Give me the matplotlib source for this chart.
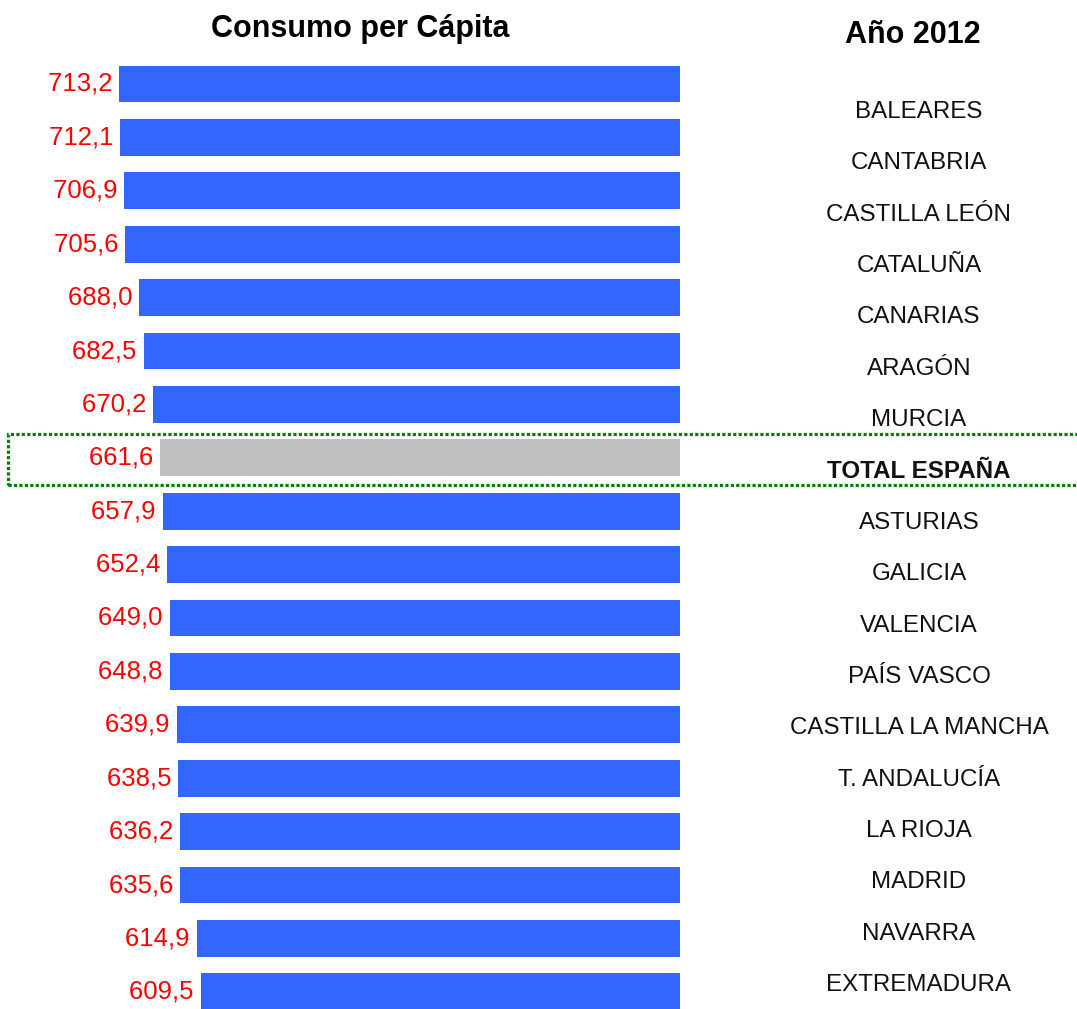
import matplotlib
matplotlib.use("Agg")
import matplotlib.pyplot as plt
from matplotlib.patches import Rectangle

regions = ["BALEARES", "CANTABRIA", "CASTILLA LEÓN", "CATALUÑA", "CANARIAS",
           "ARAGÓN", "MURCIA", "TOTAL ESPAÑA", "ASTURIAS", "GALICIA",
           "VALENCIA", "PAÍS VASCO", "CASTILLA LA MANCHA", "T. ANDALUCÍA",
           "LA RIOJA", "MADRID", "NAVARRA", "EXTREMADURA"]
values = [713.2, 712.1, 706.9, 705.6, 688.0, 682.5, 670.2, 661.6, 657.9,
          652.4, 649.0, 648.8, 639.9, 638.5, 636.2, 635.6, 614.9, 609.5]
total_label = "TOTAL ESPAÑA"

W, H = 1077, 1009
BLUE = "#3366FF"
GREY = "#C0C0C0"
FONT = "Liberation Sans"

fig = plt.figure(figsize=(W / 100, H / 100), dpi=100)
ax = fig.add_axes([0, 0, 680 / W, 1])

pitch = 53.4
first = 84.0
ax.set_xlim(680 / 0.786, 0)
ax.set_ylim((H - first) / pitch, -first / pitch)
ax.axis("off")

colors = [GREY if r == total_label else BLUE for r in regions]
ypos = list(range(len(values)))
ax.barh(ypos, values, height=0.69, color=colors)

for y, v in zip(ypos, values):
    txt = f"{v:.1f}".replace(".", ",")
    ax.text(v, y, txt + " ", ha="right", va="center", color="red",
            fontsize=18.5, family=FONT)

# region labels on the right
for i, r in enumerate(regions):
    yy = 1 - (112 + i * 51.35) / H
    fig.text(919 / W, yy, r, ha="center", va="center", fontsize=17.4,
             family=FONT, color="#111111",
             fontweight="bold" if r == total_label else "normal")

fig.text(360 / W, 1 - 29 / H, "Consumo per Cápita", ha="center", va="center",
         fontsize=22, fontweight="bold", family=FONT)
fig.text(913 / W, 1 - 35 / H, "Año 2012", ha="center", va="center",
         fontsize=22, fontweight="bold", family=FONT)

# dotted box around the total
box = Rectangle((8 / W, 1 - 485 / H), 1.1, 51 / H, transform=fig.transFigure,
                fill=False, edgecolor="#008000", linewidth=2.3,
                linestyle=(0, (1, 0.7)), clip_on=False)
fig.patches.append(box)

fig.savefig("out.png", dpi=100, facecolor="white")
